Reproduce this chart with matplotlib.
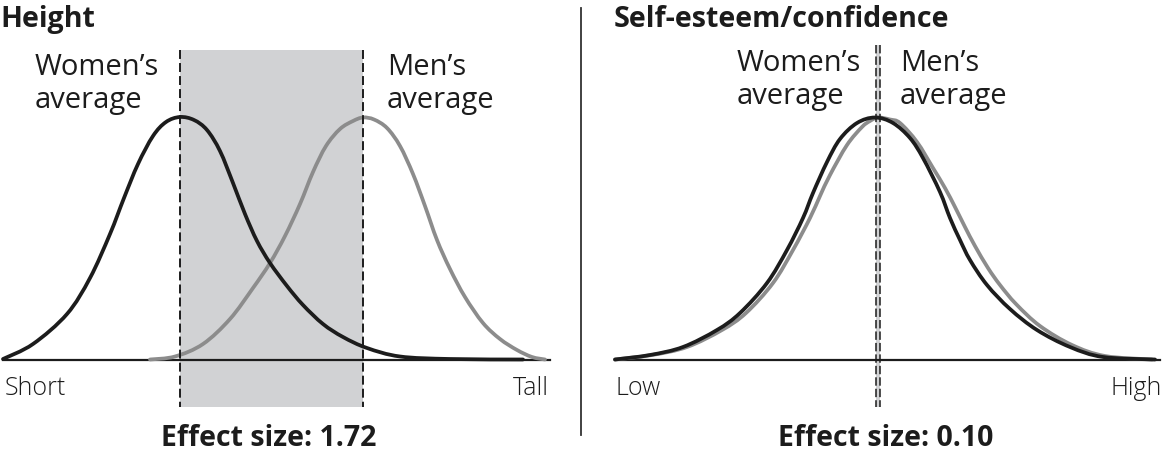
import matplotlib
matplotlib.use("Agg")
import matplotlib.pyplot as plt
from matplotlib.patches import Rectangle, PathPatch
from matplotlib.path import Path

# ---------------- data (positions along trait axis, curve rows) -------------
# Left panel: Height
h_women_x = [3, 33, 67, 90, 110, 124, 138, 153, 166, 180, 194, 207, 220, 233, 245, 257, 270,
             287, 303, 323, 343, 367, 400, 450, 523]
h_women_y = [359, 344, 314, 278, 234, 198, 164, 136, 122, 117, 120, 130, 151, 183, 214, 241, 263,
             286, 305, 324, 337, 348, 356.5, 359, 359.5]
h_men_x = [150, 175, 203, 230, 253, 270, 285, 300, 313, 326, 340, 353, 363,
           374, 387, 400, 413, 425, 437, 450, 465, 483, 500, 517, 532, 545]
h_men_y = [359.5, 356.5, 344, 319, 288, 263, 236, 204, 172, 146, 129, 121, 117.5,
           119.5, 128, 146, 174, 206, 240, 269, 297, 323, 339, 350, 357, 359.5]

# Right panel: Self-esteem/confidence
s_women_x = [615, 650, 683, 717, 740, 767, 787, 803, 813, 827, 840, 857, 875,
             893, 910, 923, 940, 950, 960, 970, 987, 1010, 1037, 1070, 1103, 1155]
s_women_y = [359.5, 355, 347, 330, 313, 283, 250, 218, 193, 162, 139, 123, 117.5,
             123, 138, 158, 192, 218, 240, 260, 285, 309, 330, 347, 357, 359.5]
s_men_x = [615, 652, 687, 722, 746, 773, 793, 810, 820, 830, 847, 862, 870, 878,
           890, 900, 917, 933, 945, 955, 965, 975, 988, 1000, 1016, 1040, 1072, 1105, 1152]
s_men_y = [359.5, 355, 347, 330, 313, 283, 250, 218, 196, 175, 145, 127, 121, 117.5,
           119.5, 123, 142, 168, 188, 207, 227, 246, 268, 285, 304, 326, 345, 356, 359.5]

# averages
h_women_avg, h_men_avg = 180, 363
s_women_avg, s_men_avg = 876, 880

titles = ["Height", "Self-esteem/confidence"]
low_labels = ["Short", "Low"]
high_labels = ["Tall", "High"]
effect_sizes = ["1.72", "0.10"]

# ---------------- styling --------------------------------------------------------------------
BASE = 360          # baseline row in the picture
BLACK = "#1c1c1c"
GREY = "#8c8c8c"
SHADE = "#d1d2d4"
W, H = 1163, 451


def ypos(v):
    return BASE - v


def smooth_curve(ax, xs, ys, color, lw, z):
    """Draw a line through the read points as a smooth (Catmull-Rom) Bezier path."""
    pts = list(zip(xs, [ypos(v) for v in ys]))
    verts = [pts[0]]
    codes = [Path.MOVETO]
    n = len(pts)
    for i in range(n - 1):
        p0 = pts[i - 1] if i > 0 else pts[i]
        p1 = pts[i]
        p2 = pts[i + 1]
        p3 = pts[i + 2] if i + 2 < n else pts[i + 1]
        c1 = (p1[0] + (p2[0] - p0[0]) / 6, p1[1] + (p2[1] - p0[1]) / 6)
        c2 = (p2[0] - (p3[0] - p1[0]) / 6, p2[1] - (p3[1] - p1[1]) / 6)
        verts += [c1, c2, p2]
        codes += [Path.CURVE4] * 3
    ax.add_patch(PathPatch(Path(verts, codes), facecolor="none", edgecolor=color,
                           lw=lw, zorder=z, capstyle="round", joinstyle="round"))


fig = plt.figure(figsize=(W / 100, H / 100), dpi=100)
fig.patch.set_facecolor("white")
axL = fig.add_axes([0, 0, 580 / W, 1])
axR = fig.add_axes([580 / W, 0, (W - 580) / W, 1])
axL.set_xlim(0, 580)
axR.set_xlim(580, W)
for ax in (axL, axR):
    ax.set_ylim(BASE - H, BASE)
    ax.axis("off")

FAM = ["Open Sans", "DejaVu Sans"]
BOLD = dict(family=FAM, weight="bold", color=BLACK)
MED = dict(family=FAM, weight="normal", color=BLACK)
LIGHT = dict(family=FAM, weight="light", color=BLACK)

TITLE_FS = 20.6
LABEL_FS = 21
END_FS = 18
EFF_FS = 20.5

# ---- left panel
axL.add_patch(Rectangle((h_women_avg, ypos(407)), h_men_avg - h_women_avg, 407 - 50,
                        facecolor=SHADE, edgecolor="none", zorder=0))
axL.plot([3, 550], [0, 0], color=BLACK, lw=1.6, zorder=2)
smooth_curve(axL, h_men_x, h_men_y, GREY, 2.7, 3)
smooth_curve(axL, h_women_x, h_women_y, BLACK, 2.7, 4)
for xa in (h_women_avg, h_men_avg):
    axL.plot([xa, xa], [ypos(50), ypos(407)], color=BLACK, lw=1.4,
             dashes=(4.6, 2.1), zorder=5)

axL.text(0, ypos(27), titles[0], fontsize=TITLE_FS, ha="left", va="baseline", **BOLD)
axL.text(35, ypos(75), "Women’s", fontsize=LABEL_FS, ha="left", va="baseline", **MED)
axL.text(35, ypos(108), "average", fontsize=LABEL_FS, ha="left", va="baseline", **MED)
axL.text(387, ypos(75), "Men’s", fontsize=LABEL_FS, ha="left", va="baseline", **MED)
axL.text(387, ypos(108), "average", fontsize=LABEL_FS, ha="left", va="baseline", **MED)
axL.text(5, ypos(395), low_labels[0], fontsize=END_FS, ha="left", va="baseline", **LIGHT)
axL.text(549, ypos(395), high_labels[0], fontsize=END_FS, ha="right", va="baseline", **LIGHT)
axL.text(269, ypos(446), "Effect size: " + effect_sizes[0], fontsize=EFF_FS, ha="center",
         va="baseline", **BOLD)

# separator
axL.plot([581, 581], [ypos(8), ypos(435)], color="#333333", lw=1.3, clip_on=False)

# ---- right panel
axR.plot([615, 1160], [0, 0], color=BLACK, lw=1.6, zorder=2)
axR.add_patch(Rectangle((s_women_avg, ypos(407)), s_men_avg - s_women_avg, 407 - 45,
                        facecolor=SHADE, edgecolor="none", zorder=1))
smooth_curve(axR, s_men_x, s_men_y, GREY, 2.7, 3)
smooth_curve(axR, s_women_x, s_women_y, BLACK, 2.7, 4)
for xa in (s_women_avg, s_men_avg):
    axR.plot([xa, xa], [ypos(45), ypos(407)], color=BLACK, lw=1.1,
             dashes=(5.5, 2.0), zorder=5)

axR.text(614, ypos(27), titles[1], fontsize=TITLE_FS, ha="left", va="baseline", **BOLD)
axR.text(737, ypos(71), "Women’s", fontsize=LABEL_FS, ha="left", va="baseline", **MED)
axR.text(737, ypos(104), "average", fontsize=LABEL_FS, ha="left", va="baseline", **MED)
axR.text(900, ypos(71), "Men’s", fontsize=LABEL_FS, ha="left", va="baseline", **MED)
axR.text(900, ypos(104), "average", fontsize=LABEL_FS, ha="left", va="baseline", **MED)
axR.text(615, ypos(395), low_labels[1], fontsize=END_FS, ha="left", va="baseline", **LIGHT)
axR.text(1162, ypos(395), high_labels[1], fontsize=END_FS, ha="right", va="baseline", **LIGHT)
axR.text(886, ypos(446), "Effect size: " + effect_sizes[1], fontsize=EFF_FS, ha="center",
         va="baseline", **BOLD)

fig.savefig("out.png", dpi=100, facecolor="white")
